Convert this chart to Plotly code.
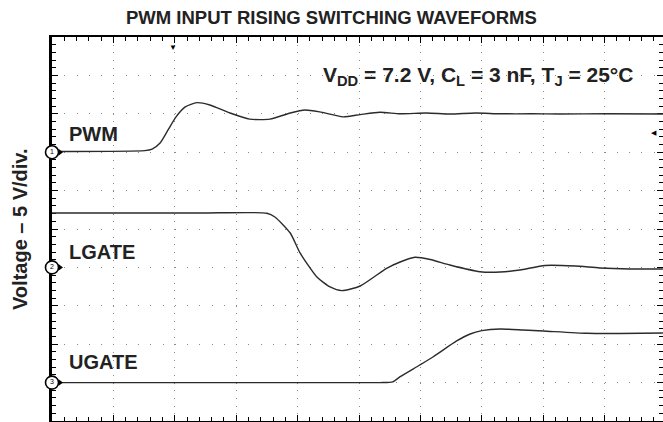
import plotly.graph_objects as go

# ---- data (time in divisions, voltage in volts) ----
pwm_t = [0.0, 1.51, 1.63, 1.76, 1.89, 2.02, 2.17, 2.36, 2.57, 2.90, 3.22, 3.55, 3.88, 4.12, 4.36, 4.74, 5.02, 5.34, 5.67, 6.10, 6.48, 6.90, 7.30, 7.80, 8.27, 9.00, 9.95]
pwm_v = [0.1, 0.2, 0.4, 1.2, 2.9, 4.6, 5.9, 6.45, 6.15, 5.1, 4.3, 4.3, 5.1, 5.5, 5.25, 4.6, 4.9, 5.2, 5.0, 5.1, 4.97, 5.1, 5.0, 5.0, 4.97, 5.0, 4.97]

lgate_t = [0.0, 2.41, 3.50, 3.63, 3.88, 4.04, 4.31, 4.53, 4.72, 5.02, 5.45, 5.67, 5.91, 6.16, 6.48, 6.97, 7.30, 7.62, 8.03, 8.52, 8.92, 9.41, 9.95]
lgate_v = [7.08, 7.08, 7.05, 6.56, 4.48, 1.88, -1.21, -2.55, -3.03, -2.42, -0.12, 0.7, 1.32, 1.03, 0.31, -0.56, -0.6, -0.34, 0.25, 0.18, -0.07, -0.2, -0.2]

ugate_t = [0.0, 5.34, 5.55, 5.67, 5.99, 6.21, 6.59, 6.81, 7.00, 7.30, 7.67, 8.00, 8.71, 9.25, 9.95]
ugate_v = [0.0, 0.0, 0.1, 0.77, 2.29, 3.37, 5.42, 6.33, 6.76, 6.98, 6.85, 6.72, 6.42, 6.4, 6.46]

channel_names = ["PWM", "LGATE", "UGATE"]
channel_numbers = ["1", "2", "3"]
channel_offsets = [7, 4, 1]          # ground reference position, divisions
volts_per_div = 5

title_text = "PWM INPUT RISING SWITCHING WAVEFORMS"
ytitle_text = "Voltage – 5 V/div."
cond_text = "V<sub>DD</sub> = 7.2 V, C<sub>L</sub> = 3 nF, T<sub>J</sub> = 25°C"

trace_color = "#2b2b2b"
FONT = "Liberation Sans, Arial, sans-serif"

fig = go.Figure()
for name, t, v, off in zip(channel_names, [pwm_t, lgate_t, ugate_t], [pwm_v, lgate_v, ugate_v], channel_offsets):
    fig.add_trace(go.Scatter(
        x=t, y=[off + val / volts_per_div for val in v], mode="lines", name=name,
        line=dict(color=trace_color, width=1.4, shape="spline", smoothing=0.6),
        showlegend=False, hoverinfo="skip"))

# channel ground markers (circle with number + small arrow)
fig.add_trace(go.Scatter(
    x=[0.13] * 3, y=channel_offsets, mode="markers",
    marker=dict(symbol="triangle-right", size=6, color="black"),
    cliponaxis=False, showlegend=False, hoverinfo="skip"))
fig.add_trace(go.Scatter(
    x=[0] * 3, y=channel_offsets, mode="markers+text",
    text=channel_numbers, textposition="middle center",
    textfont=dict(size=7, color="black", family=FONT),
    marker=dict(symbol="circle", size=13, color="white", line=dict(color="black", width=1.6)),
    cliponaxis=False, showlegend=False, hoverinfo="skip"))

# labels
label_y = [7.47, 4.41, 1.54]
annotations = []
for name, ly in zip(channel_names, label_y):
    annotations.append(dict(x=0.24, y=ly, xref="x", yref="y", text="<b>%s</b>" % name,
                            showarrow=False, xanchor="left", yanchor="middle",
                            font=dict(size=20, color="#222", family=FONT)))
annotations.append(dict(x=9.5, y=8.98, xref="x", yref="y", text="<b>%s</b>" % cond_text,
                        showarrow=False, xanchor="right", yanchor="middle",
                        font=dict(size=21, color="#222", family=FONT)))
annotations.append(dict(x=0, y=0.5, xref="paper", yref="paper", xshift=-32,
                        text="<b>%s</b>" % ytitle_text, textangle=-90,
                        showarrow=False, xanchor="center", yanchor="middle",
                        font=dict(size=20, color="#222", family=FONT)))
annotations.append(dict(x=0.458, y=1, xref="paper", yref="paper", yshift=20,
                        text="<b>%s</b>" % title_text,
                        showarrow=False, xanchor="center", yanchor="middle",
                        font=dict(size=18.5, color="#222", family=FONT)))
# trigger position / level indicators
annotations.append(dict(x=1.97, y=1, xref="x", yref="paper", yshift=-4, text="▼",
                        showarrow=False, font=dict(size=8, color="black", family=FONT)))
annotations.append(dict(x=9.8, y=7.51, xref="x", yref="y", text="◀",
                        showarrow=False, font=dict(size=7, color="black", family=FONT)))

fig.update_layout(
    width=663, height=422,
    margin=dict(l=52, r=0, t=37, b=1),
    paper_bgcolor="white", plot_bgcolor="white",
    annotations=annotations,
    xaxis=dict(range=[0, 9.951], dtick=1, tick0=0, showticklabels=False, layer="below traces",
               showgrid=True, gridcolor="#8a8a8a", gridwidth=1.3, griddash="1px,6.68px",
               ticks="inside", ticklen=6, tickcolor="black", tickwidth=1,
               showline=True, linecolor="black", linewidth=2, mirror="ticks",
               minor=dict(dtick=0.2, ticks="inside", ticklen=4, tickcolor="black", tickwidth=1, showgrid=False),
               zeroline=False, fixedrange=True),
    yaxis=dict(range=[0, 10], dtick=1, tick0=0, showticklabels=False, layer="below traces",
               showgrid=True, gridcolor="#8a8a8a", gridwidth=1.3, griddash="1px,11.28px",
               ticks="inside", ticklen=6, tickcolor="black", tickwidth=1,
               showline=True, linecolor="black", linewidth=3, mirror=False,
               minor=dict(dtick=0.2, ticks="inside", ticklen=4, tickcolor="black", tickwidth=1, showgrid=False),
               zeroline=False, fixedrange=True),
    yaxis2=dict(range=[0, 10], overlaying="y", side="right", dtick=1, tick0=0, layer="below traces",
                showticklabels=False, showgrid=False, showline=False, zeroline=False,
                ticks="inside", ticklen=6, tickcolor="black", tickwidth=1,
                minor=dict(dtick=0.2, ticks="inside", ticklen=4, tickcolor="black", tickwidth=1)),
)
fig.add_trace(go.Scatter(x=[None], y=[None], yaxis="y2", showlegend=False, hoverinfo="skip"))

fig.write_html("out.html", config={"displayModeBar": False},
               post_script="document.body.style.margin='0';")
